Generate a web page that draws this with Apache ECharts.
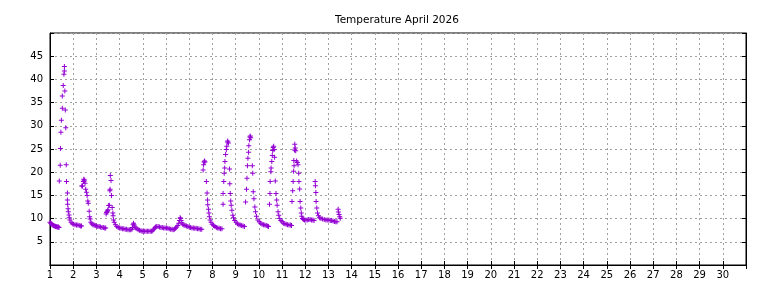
<!DOCTYPE html>
<html>
<head>
<meta charset="utf-8">
<script src="https://cdn.jsdelivr.net/npm/echarts@6/dist/echarts.min.js"></script>
<style>
html,body{margin:0;padding:0;background:#fff;}
#c{width:768px;height:288px;}
</style>
</head>
<body>
<div id="c"></div>
<script>
// [day of month (fractional), temperature °C]
var day01 = [[1.00,9.2],[1.03,9.0],[1.06,8.9],[1.09,8.7],[1.12,8.6],[1.15,8.5],[1.18,8.4],[1.21,8.4],[1.24,8.3],[1.27,8.3],[1.30,8.2],[1.33,8.2],[1.36,8.2],[1.39,8.1],
  [1.40,18.1],[1.44,21.5],[1.45,25.1],[1.47,28.6],[1.49,31.2],[1.53,33.8],[1.53,36.4],[1.57,38.7],[1.60,41.1],[1.62,41.8],[1.62,42.8],
  [1.64,37.5],[1.66,33.4],[1.68,29.6],[1.70,21.6],[1.71,18.0],[1.75,15.5],[1.75,14.0],[1.76,13.1],[1.78,12.1],[1.79,11.5],[1.82,10.8],[1.83,10.2],[1.86,9.7],[1.91,9.2],[1.96,8.9]];
var day02 = [[2.02,8.8],[2.08,8.7],[2.14,8.6],[2.20,8.6],[2.26,8.5],[2.32,8.4],[2.36,8.4],
  [2.37,17.0],[2.40,17.0],[2.44,18.0],[2.46,18.5],[2.47,18.3],[2.48,18.1],[2.51,17.6],[2.54,16.3],[2.57,15.7],[2.60,15.0],[2.63,13.8],[2.65,13.3],[2.69,11.6],[2.71,10.4],[2.73,9.9],[2.76,9.2],[2.80,8.9],[2.85,8.7],[2.90,8.6],[2.95,8.5]];
var day03 = [[3.00,8.4],[3.06,8.3],[3.12,8.3],[3.18,8.2],[3.24,8.1],[3.30,8.1],[3.36,8.0],[3.40,8.0],
  [3.42,11.0],[3.44,11.3],[3.46,11.5],[3.48,11.7],[3.50,11.9],[3.53,12.8],[3.56,12.9],[3.58,16.0],[3.59,16.3],[3.60,19.3],[3.63,18.2],[3.65,15.0],[3.68,12.4],[3.71,11.2],[3.72,10.6],[3.74,9.7],[3.77,9.2],[3.82,8.7],[3.88,8.3],[3.94,8.1]];
var day04 = [[4.00,8.0],[4.06,7.9],[4.12,7.8],[4.18,7.8],[4.24,7.7],[4.30,7.7],[4.36,7.6],[4.42,7.6],[4.48,7.6],[4.53,7.7],[4.56,8.1],[4.58,8.7],[4.60,9.0],[4.63,8.6],[4.66,8.2],[4.70,8.0],[4.75,7.8],[4.80,7.6],[4.86,7.5],[4.92,7.4],[4.97,7.3]];
var day05 = [[5.02,7.3],[5.08,7.3],[5.14,7.3],[5.20,7.3],[5.26,7.3],[5.32,7.3],[5.38,7.3],[5.43,7.4],[5.47,7.7],[5.51,8.0],[5.55,8.2],[5.60,8.3],[5.66,8.3],[5.72,8.2],[5.78,8.1],[5.84,8.1],[5.90,8.0],[5.96,8.0]];
var day06 = [[6.02,8.0],[6.08,7.9],[6.14,7.8],[6.20,7.7],[6.26,7.7],[6.31,7.6],[6.36,7.7],[6.41,7.9],[6.46,8.2],[6.51,8.5],[6.55,9.0],[6.58,9.6],[6.61,10.2],[6.63,10.0],[6.65,9.6],[6.68,9.1],[6.72,8.8],[6.77,8.6],[6.82,8.5],[6.88,8.4],[6.94,8.3]];
var day07 = [[7.00,8.2],[7.06,8.1],[7.12,8.0],[7.18,8.0],[7.24,7.9],[7.30,7.9],[7.36,7.8],[7.42,7.8],[7.48,7.7],[7.54,7.7],
  [7.60,20.5],[7.62,21.6],[7.64,22.2],[7.66,22.4],[7.68,22.2],[7.74,18.0],[7.77,15.5],[7.79,14.0],[7.80,13.0],[7.83,12.0],[7.85,11.2],[7.87,10.4],[7.90,9.7],[7.94,9.2],[7.99,8.8]];
var day08 = [[8.05,8.5],[8.11,8.3],[8.17,8.1],[8.23,8.0],[8.29,7.9],[8.35,7.8],[8.41,7.8],
  [8.46,13.1],[8.46,15.4],[8.49,18.0],[8.51,19.8],[8.53,20.9],[8.54,22.3],[8.57,23.8],[8.60,24.9],[8.62,25.6],[8.65,26.5],[8.66,26.7],[8.69,26.3],
  [8.74,20.7],[8.75,17.5],[8.77,15.4],[8.79,13.8],[8.81,12.9],[8.84,11.8],[8.88,10.7],[8.91,10.2],[8.96,9.6]];
var day09 = [[9.02,9.2],[9.08,8.9],[9.14,8.7],[9.20,8.6],[9.26,8.5],[9.32,8.4],[9.38,8.3],
  [9.43,13.6],[9.47,16.3],[9.49,18.7],[9.51,21.4],[9.53,23.0],[9.56,24.3],[9.57,25.7],[9.60,27.0],[9.62,27.6],[9.63,27.8],[9.65,27.4],
  [9.72,21.4],[9.74,19.8],[9.76,15.8],[9.79,14.3],[9.83,12.5],[9.86,11.5],[9.90,10.5],[9.96,9.7]];
var day10 = [[10.02,9.3],[10.08,9.0],[10.14,8.8],[10.20,8.7],[10.26,8.6],[10.32,8.5],[10.38,8.4],[10.42,8.3],
  [10.46,13.1],[10.48,15.4],[10.49,18.0],[10.52,20.1],[10.53,20.9],[10.56,22.3],[10.58,23.6],[10.60,24.7],[10.62,25.3],[10.64,25.6],[10.66,24.9],[10.68,23.2],
  [10.71,18.1],[10.74,15.4],[10.77,14.0],[10.79,12.9],[10.83,11.5],[10.86,10.7],[10.90,10.0],[10.95,9.6]];
var day11 = [[11.00,9.3],[11.06,9.0],[11.12,8.9],[11.18,8.8],[11.24,8.7],[11.30,8.6],[11.36,8.6],[11.41,8.5],
  [11.43,13.7],[11.46,16.0],[11.48,18.0],[11.50,20.2],[11.51,22.5],[11.52,21.4],[11.54,24.8],[11.55,26.0],[11.57,25.2],[11.59,24.6],
  [11.63,22.4],[11.66,22.1],[11.69,21.6],[11.72,19.8],[11.73,18.0],[11.76,16.4],[11.78,13.7],[11.81,12.3],[11.83,11.2],[11.85,10.5],[11.88,10.0],[11.92,9.8],[11.97,9.7]];
var day12 = [[12.03,9.7],[12.09,9.7],[12.15,9.8],[12.21,9.8],[12.27,9.7],[12.33,9.7],[12.38,9.6],
  [12.43,18.0],[12.44,17.1],[12.46,15.6],[12.47,13.7],[12.50,12.3],[12.53,11.2],[12.57,10.6],[12.62,10.2],[12.68,10.0],[12.75,9.9],[12.82,9.8],[12.89,9.7],[12.95,9.7]];
var day13 = [[13.02,9.7],[13.08,9.6],[13.14,9.6],[13.20,9.5],[13.26,9.4],[13.32,9.3],[13.37,9.3],
  [13.42,12.0],[13.43,11.4],[13.46,10.9],[13.49,10.4],[13.51,10.1]];

var chartTitle = 'Temperature April 2026';
var xMin = 1, xMax = 31, xStep = 1;
var yMin = 0, yMax = 50, yStep = 5;

var allPoints = [].concat(day01, day02, day03, day04, day05, day06, day07, day08, day09, day10, day11, day12, day13);

var font = 'DejaVu Sans';
var plus = 'path://M2,0H3V2H5V3H3V5H2V3H0V2H2Z';
var chart = echarts.init(document.getElementById('c'), null, {renderer: 'canvas'});
var tickStyle = {show: true, inside: true, length: 4, lineStyle: {color: '#000', width: 1}};
var lineStyle = {show: true, lineStyle: {color: '#000', width: 1}};
var gridLine = {show: true, lineStyle: {color: '#a0a0a0', width: 1, type: [2, 3]}};
chart.setOption({
  animation: false,
  backgroundColor: '#fff',
  title: {text: chartTitle, left: 330, top: 10,
    textStyle: {fontFamily: font, fontSize: 10.5, fontWeight: 'normal', color: '#000'}},
  grid: {left: 50, right: 22, top: 33, bottom: 23, show: true, borderColor: '#000', borderWidth: 1, containLabel: false},
  xAxis: [
    {type: 'value', min: xMin, max: xMax, interval: xStep, position: 'bottom',
     axisLine: lineStyle, axisTick: tickStyle, splitLine: gridLine,
     axisLabel: {color: '#000', fontFamily: font, fontSize: 10, margin: 5,
       formatter: function (v) { return v === xMax ? '' : String(v); }}},
    {type: 'value', min: xMin, max: xMax, interval: xStep, position: 'top',
     axisLine: lineStyle, axisTick: tickStyle, splitLine: {show: false}, axisLabel: {show: false}}
  ],
  yAxis: [
    {type: 'value', min: yMin, max: yMax, interval: yStep, position: 'left',
     axisLine: lineStyle, axisTick: tickStyle, splitLine: gridLine,
     axisLabel: {color: '#000', fontFamily: font, fontSize: 10, margin: 7,
       formatter: function (v) { return (v === yMin || v === yMax) ? '' : String(v); }}},
    {type: 'value', min: yMin, max: yMax, interval: yStep, position: 'right',
     axisLine: lineStyle, axisTick: tickStyle, splitLine: {show: false}, axisLabel: {show: false}}
  ],
  series: [{
    type: 'scatter', xAxisIndex: 0, yAxisIndex: 0,
    data: allPoints, symbol: plus, symbolSize: 5,
    itemStyle: {color: '#9400d3', opacity: 1}
  }]
});
</script>
</body>
</html>
